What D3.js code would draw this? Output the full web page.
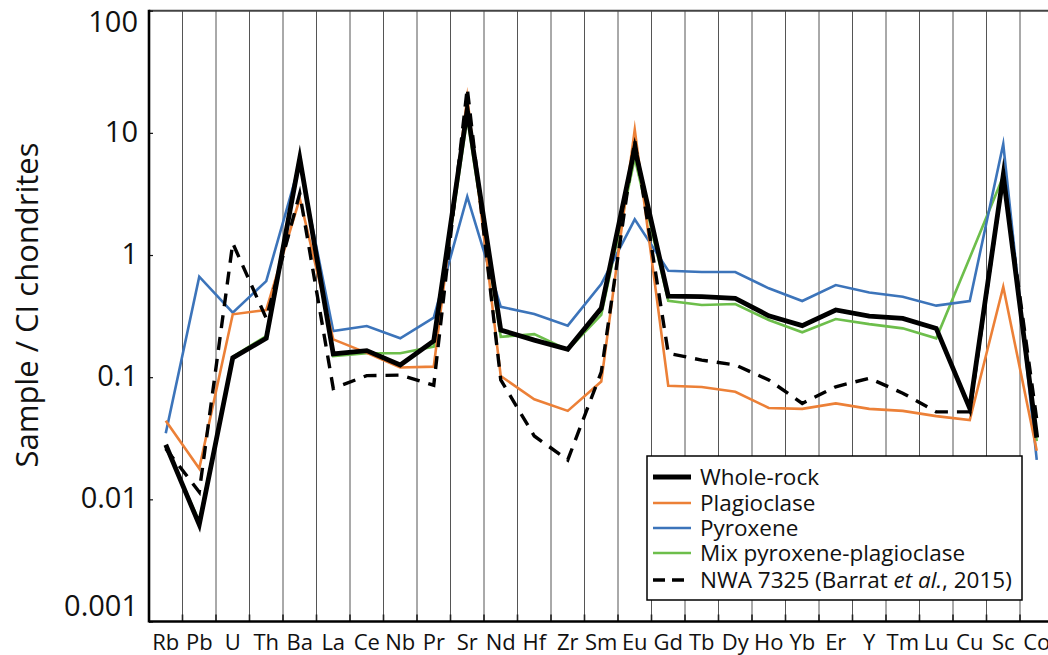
<!DOCTYPE html>
<html>
<head>
<meta charset="utf-8">
<script src="https://cdn.jsdelivr.net/npm/d3@7"></script>
<style>
  body { margin: 0; background: #fff; }
  text { font-family: "Open Sans", "Noto Sans", sans-serif; fill: #111; }
</style>
</head>
<body>
<svg id="chart" width="1048" height="655"></svg>
<script>
// element order along the x axis
var elements = ["Rb","Pb","U","Th","Ba","La","Ce","Nb","Pr","Sr","Nd","Hf","Zr","Sm","Eu",
                "Gd","Tb","Dy","Ho","Yb","Er","Y","Tm","Lu","Cu","Sc","Co"];

// CI-normalised values
var wholeRock   = [0.028, 0.0062, 0.144, 0.208, 6.2, 0.155, 0.165, 0.126, 0.198, 15.4, 0.243, 0.201, 0.169, 0.366, 7.5,
                   0.46, 0.456, 0.442, 0.318, 0.264, 0.355, 0.316, 0.303, 0.251, 0.0556, 4.5, 0.032];
var plagioclase = [0.044, 0.0179, 0.327, 0.355, 2.9, 0.204, 0.158, 0.12, 0.122, 19.5, 0.102, 0.066, 0.053, 0.092, 10.6,
                   0.085, 0.083, 0.076, 0.056, 0.055, 0.061, 0.055, 0.053, 0.048, 0.0446, 0.55, 0.025];
var pyroxene    = [0.0347, 0.665, 0.337, 0.612, 5.6, 0.239, 0.262, 0.208, 0.307, 3.0, 0.377, 0.329, 0.264, 0.579, 1.96,
                   0.744, 0.726, 0.726, 0.534, 0.42, 0.568, 0.494, 0.456, 0.385, 0.42, 8.1, 0.021];
var mixPxPl     = [0.027, 0.0066, 0.147, 0.217, 6.5, 0.149, 0.157, 0.157, 0.178, 13.2, 0.214, 0.225, 0.167, 0.323, 6.2,
                   0.422, 0.39, 0.397, 0.294, 0.233, 0.299, 0.272, 0.251, 0.208, 0.95, 4.4, 0.03];
var nwa7325     = [0.026, 0.0115, 1.25, 0.303, 3.2, 0.081, 0.103, 0.104, 0.086, 23.2, 0.095, 0.033, 0.021, 0.11, 8.7,
                   0.157, 0.138, 0.126, 0.095, 0.061, 0.0835, 0.098, 0.074, 0.052, 0.052, 4.5, 0.045];

var yTicks = [100, 10, 1, 0.1, 0.01, 0.001];
var yTickLabels = ["100", "10", "1", "0.1", "0.01", "0.001"];

// series in drawing order (last one on top)
var series = [
  {name: "Mix pyroxene-plagioclase", values: mixPxPl, color: "#6dbe4b", width: 2.6, dash: null},
  {name: "Pyroxene", values: pyroxene, color: "#3c74ba", width: 2.6, dash: null},
  {name: "Plagioclase", values: plagioclase, color: "#ec8037", width: 2.6, dash: null},
  {name: "Whole-rock", values: wholeRock, color: "#000", width: 4.8, dash: null},
  {name: "NWA 7325", values: nwa7325, color: "#000", width: 3.4, dash: "13,9"}
];

var legendItems = [
  {label: "Whole-rock", color: "#000", width: 4.8, dash: null},
  {label: "Plagioclase", color: "#ec8037", width: 2.6, dash: null},
  {label: "Pyroxene", color: "#3c74ba", width: 2.6, dash: null},
  {label: "Mix pyroxene-plagioclase", color: "#6dbe4b", width: 2.6, dash: null},
  {label: "NWA 7325 (Barrat ", italic: "et al.", tail: ", 2015)", color: "#000", width: 3.4, dash: "12,7"}
];

var svg = d3.select("#chart");

// note: "top" is a reserved window property, so use plot* names
var plotLeft = 149, plotTop = 10.7, plotBottom = 621.5;
var x = d3.scaleBand().domain(elements).range([plotLeft, plotLeft + 33.5 * elements.length]);
var y = d3.scaleLog().domain([0.001, 100]).range([plotBottom, plotTop]);

// vertical grid lines on the band edges
var edges = elements.slice(1).map(function(e) { return x(e); });
svg.append("g").selectAll("line").data(edges).enter().append("line")
  .attr("x1", function(d) { return d; }).attr("x2", function(d) { return d; })
  .attr("y1", plotTop).attr("y2", plotBottom)
  .attr("stroke", "#555").attr("stroke-width", 1);

// short ticks at the foot of each grid line
svg.append("g").selectAll("line").data(edges).enter().append("line")
  .attr("x1", function(d) { return d; }).attr("x2", function(d) { return d; })
  .attr("y1", plotBottom - 7).attr("y2", plotBottom)
  .attr("stroke", "#222").attr("stroke-width", 1.6);

// top frame line
svg.append("line").attr("x1", plotLeft).attr("x2", 1048).attr("y1", plotTop).attr("y2", plotTop)
  .attr("stroke", "#444").attr("stroke-width", 2);

// y axis
var yAxis = d3.axisLeft(y).tickValues(yTicks).tickSize(-4).tickPadding(11)
  .tickFormat(function(d, i) { return yTickLabels[i]; });
var gy = svg.append("g").attr("transform", "translate(" + plotLeft + ",0)").call(yAxis);
gy.select(".domain").remove();
gy.selectAll(".tick line").attr("stroke", "#111").attr("stroke-width", 1.2);
gy.selectAll(".tick text")
  .attr("font-size", 29).attr("font-family", "Open Sans, sans-serif").attr("fill", "#111")
  .attr("dy", null)
  .attr("y", function(d) { return d == 100 ? 21 : (d == 0.001 ? -6 : 8.5); });
svg.append("line").attr("x1", plotLeft).attr("x2", plotLeft).attr("y1", plotTop - 1).attr("y2", plotBottom + 1)
  .attr("stroke", "#000").attr("stroke-width", 2.6);

// x axis labels
var xAxis = d3.axisBottom(x).tickSize(0);
var gx = svg.append("g").attr("transform", "translate(0," + plotBottom + ")").call(xAxis);
gx.select(".domain").remove();
gx.selectAll(".tick text")
  .attr("font-size", 22).attr("font-family", "Open Sans, sans-serif").attr("fill", "#111")
  .attr("dy", null).attr("y", 28.5);
svg.append("line").attr("x1", plotLeft).attr("x2", 1048).attr("y1", plotBottom).attr("y2", plotBottom)
  .attr("stroke", "#000").attr("stroke-width", 2.6);

// y axis title
svg.append("text")
  .attr("transform", "translate(38,305) rotate(-90)")
  .attr("text-anchor", "middle")
  .attr("font-size", 31)
  .text("Sample / CI chondrites");

// the five spectra
var line = d3.line()
  .x(function(d, i) { return x(elements[i]) + x.bandwidth() / 2; })
  .y(function(d) { return y(d); });

series.forEach(function(s) {
  svg.append("path")
    .attr("d", line(s.values))
    .attr("fill", "none")
    .attr("stroke", s.color)
    .attr("stroke-width", s.width)
    .attr("stroke-linejoin", "miter")
    .attr("stroke-miterlimit", 10)
    .attr("stroke-dasharray", s.dash);
});

// legend
var lg = svg.append("g");
lg.append("rect").attr("x", 647).attr("y", 456).attr("width", 375).attr("height", 144)
  .attr("fill", "#fff").attr("stroke", "#000").attr("stroke-width", 1.5);
var rowY = [477, 503, 528, 553, 580];
legendItems.forEach(function(item, i) {
  lg.append("line")
    .attr("x1", 653).attr("x2", item.dash ? 684 : 691)
    .attr("y1", rowY[i]).attr("y2", rowY[i])
    .attr("stroke", item.color).attr("stroke-width", item.width)
    .attr("stroke-dasharray", item.dash);
  var t = lg.append("text").attr("x", 700).attr("y", rowY[i] + 8).attr("font-size", 22.5);
  t.append("tspan").text(item.label);
  if (item.italic) {
    t.append("tspan").attr("font-style", "italic").text(item.italic);
    t.append("tspan").text(item.tail);
  }
});
</script>
</body>
</html>
